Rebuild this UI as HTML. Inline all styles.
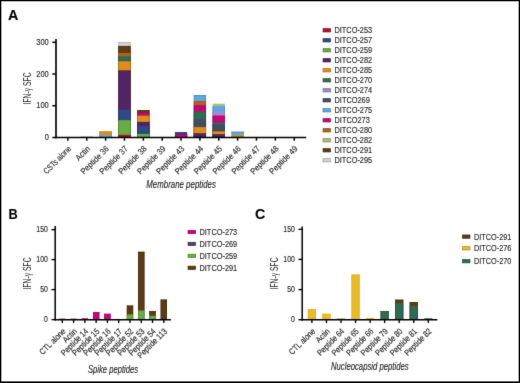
<!DOCTYPE html>
<html><head><meta charset="utf-8"><style>
html,body{margin:0;padding:0;background:#fff;}
#fig{position:relative;width:520px;height:383px;overflow:hidden;background:#fff;}
#fig svg{position:absolute;left:0;top:0;will-change:transform;}
#fig text{font-family:"Liberation Sans",sans-serif;fill:#222;stroke:#222;stroke-width:0.12px;}
#frame{position:absolute;left:0;top:0;width:520px;height:383px;box-sizing:border-box;border:1px solid #000;
 box-shadow:inset 0 0 0 0.6px rgba(0,0,0,0.55),inset 0 -1px 0 0 rgba(0,0,0,0.45);}
</style></head><body>
<div id="fig">
<svg width="520" height="383" viewBox="0 0 520 383">
<defs><filter id="bl" x="0" y="0" width="520" height="383" filterUnits="userSpaceOnUse" color-interpolation-filters="sRGB"><feConvolveMatrix order="3" kernelMatrix="0.00810 0.07380 0.00810 0.07380 0.67240 0.07380 0.00810 0.07380 0.00810" divisor="1" edgeMode="duplicate" preserveAlpha="false"/></filter></defs>
<g filter="url(#bl)">
<rect x="0" y="0" width="520" height="383" fill="#fff"/>
<text x="7.9" y="19.5" font-size="14.3" style="font-weight:700;fill:#000">A</text>
<rect x="80.66" y="136" width="12.2" height="1.5" fill="#d2d1d9"/>
<rect x="99.52" y="131.5" width="12.2" height="6" fill="#e08e19"/>
<rect x="99.52" y="135" width="12.2" height="2.5" fill="#5ea7e6"/>
<rect x="99.52" y="135" width="0.7" height="2.5" fill="#4d88bc"/>
<rect x="111.02" y="135" width="0.7" height="2.5" fill="#4d88bc"/>
<rect x="99.52" y="131.5" width="0.7" height="3.5" fill="#b77414"/>
<rect x="111.02" y="131.5" width="0.7" height="3.5" fill="#b77414"/>
<rect x="99.52" y="131.5" width="12.2" height="0.7" fill="#b77414"/>
<rect x="118.38" y="42.3" width="12.2" height="95.2" fill="#d2d1d9"/>
<rect x="118.38" y="45.9" width="12.2" height="91.6" fill="#5c3b17"/>
<rect x="118.38" y="52.9" width="12.2" height="84.6" fill="#ac631f"/>
<rect x="118.38" y="56.3" width="12.2" height="81.2" fill="#2f6b52"/>
<rect x="118.38" y="61.3" width="12.2" height="76.2" fill="#e08e19"/>
<rect x="118.38" y="70.3" width="12.2" height="67.2" fill="#512564"/>
<rect x="118.38" y="109.7" width="12.2" height="27.8" fill="#2e4a82"/>
<rect x="118.38" y="120.2" width="12.2" height="17.3" fill="#67ad44"/>
<rect x="118.38" y="134.8" width="12.2" height="2.7" fill="#b0102f"/>
<rect x="118.38" y="134.8" width="0.7" height="2.7" fill="#900d26"/>
<rect x="129.88" y="134.8" width="0.7" height="2.7" fill="#900d26"/>
<rect x="118.38" y="120.2" width="0.7" height="14.6" fill="#548d37"/>
<rect x="129.88" y="120.2" width="0.7" height="14.6" fill="#548d37"/>
<rect x="118.38" y="109.7" width="0.7" height="10.5" fill="#253c6a"/>
<rect x="129.88" y="109.7" width="0.7" height="10.5" fill="#253c6a"/>
<rect x="118.38" y="70.3" width="0.7" height="39.4" fill="#421e52"/>
<rect x="129.88" y="70.3" width="0.7" height="39.4" fill="#421e52"/>
<rect x="118.38" y="61.3" width="0.7" height="9" fill="#b77414"/>
<rect x="129.88" y="61.3" width="0.7" height="9" fill="#b77414"/>
<rect x="118.38" y="56.3" width="0.7" height="5" fill="#214d3b"/>
<rect x="129.88" y="56.3" width="0.7" height="5" fill="#214d3b"/>
<rect x="118.38" y="52.9" width="0.7" height="3.4" fill="#8d5119"/>
<rect x="129.88" y="52.9" width="0.7" height="3.4" fill="#8d5119"/>
<rect x="118.38" y="45.9" width="0.7" height="7" fill="#472e11"/>
<rect x="129.88" y="45.9" width="0.7" height="7" fill="#472e11"/>
<rect x="118.38" y="42.3" width="0.7" height="3.6" fill="#acabb1"/>
<rect x="129.88" y="42.3" width="0.7" height="3.6" fill="#acabb1"/>
<rect x="118.38" y="42.3" width="12.2" height="0.7" fill="#acabb1"/>
<rect x="137.24" y="110.1" width="12.2" height="27.4" fill="#5c3b17"/>
<rect x="137.24" y="113" width="12.2" height="24.5" fill="#c9037a"/>
<rect x="137.24" y="115.7" width="12.2" height="21.8" fill="#e08e19"/>
<rect x="137.24" y="121.9" width="12.2" height="15.6" fill="#512564"/>
<rect x="137.24" y="125.9" width="12.2" height="11.6" fill="#2e4a82"/>
<rect x="137.24" y="133.9" width="12.2" height="3.6" fill="#67ad44"/>
<rect x="137.24" y="133.9" width="0.7" height="3.6" fill="#548d37"/>
<rect x="148.74" y="133.9" width="0.7" height="3.6" fill="#548d37"/>
<rect x="137.24" y="125.9" width="0.7" height="8" fill="#253c6a"/>
<rect x="148.74" y="125.9" width="0.7" height="8" fill="#253c6a"/>
<rect x="137.24" y="121.9" width="0.7" height="4" fill="#421e52"/>
<rect x="148.74" y="121.9" width="0.7" height="4" fill="#421e52"/>
<rect x="137.24" y="115.7" width="0.7" height="6.2" fill="#b77414"/>
<rect x="148.74" y="115.7" width="0.7" height="6.2" fill="#b77414"/>
<rect x="137.24" y="113" width="0.7" height="2.7" fill="#a40264"/>
<rect x="148.74" y="113" width="0.7" height="2.7" fill="#a40264"/>
<rect x="137.24" y="110.1" width="0.7" height="2.9" fill="#472e11"/>
<rect x="148.74" y="110.1" width="0.7" height="2.9" fill="#472e11"/>
<rect x="137.24" y="110.1" width="12.2" height="0.7" fill="#472e11"/>
<rect x="174.96" y="132" width="12.2" height="5.5" fill="#2e4a82"/>
<rect x="174.96" y="133.8" width="12.2" height="3.7" fill="#512564"/>
<rect x="174.96" y="134.7" width="12.2" height="2.8" fill="#c9037a"/>
<rect x="174.96" y="134.7" width="0.7" height="2.8" fill="#a40264"/>
<rect x="186.46" y="134.7" width="0.7" height="2.8" fill="#a40264"/>
<rect x="193.82" y="95" width="12.2" height="42.5" fill="#5ea7e6"/>
<rect x="193.82" y="100.9" width="12.2" height="36.6" fill="#ac631f"/>
<rect x="193.82" y="105.1" width="12.2" height="32.4" fill="#c9037a"/>
<rect x="193.82" y="111.4" width="12.2" height="26.1" fill="#2f6b52"/>
<rect x="193.82" y="119.1" width="12.2" height="18.4" fill="#434c63"/>
<rect x="193.82" y="127.1" width="12.2" height="10.4" fill="#e08e19"/>
<rect x="193.82" y="133.2" width="12.2" height="4.3" fill="#512564"/>
<rect x="193.82" y="133.2" width="0.7" height="4.3" fill="#421e52"/>
<rect x="205.32" y="133.2" width="0.7" height="4.3" fill="#421e52"/>
<rect x="193.82" y="127.1" width="0.7" height="6.1" fill="#b77414"/>
<rect x="205.32" y="127.1" width="0.7" height="6.1" fill="#b77414"/>
<rect x="193.82" y="119.1" width="0.7" height="8" fill="#363e51"/>
<rect x="205.32" y="119.1" width="0.7" height="8" fill="#363e51"/>
<rect x="193.82" y="111.4" width="0.7" height="7.7" fill="#214d3b"/>
<rect x="205.32" y="111.4" width="0.7" height="7.7" fill="#214d3b"/>
<rect x="193.82" y="105.1" width="0.7" height="6.3" fill="#a40264"/>
<rect x="205.32" y="105.1" width="0.7" height="6.3" fill="#a40264"/>
<rect x="193.82" y="100.9" width="0.7" height="4.2" fill="#8d5119"/>
<rect x="205.32" y="100.9" width="0.7" height="4.2" fill="#8d5119"/>
<rect x="193.82" y="95" width="0.7" height="5.9" fill="#4d88bc"/>
<rect x="205.32" y="95" width="0.7" height="5.9" fill="#4d88bc"/>
<rect x="193.82" y="95" width="12.2" height="0.7" fill="#4d88bc"/>
<rect x="212.68" y="103.7" width="12.2" height="33.8" fill="#abbd78"/>
<rect x="212.68" y="106.1" width="12.2" height="31.4" fill="#5ea7e6"/>
<rect x="212.68" y="111.2" width="12.2" height="26.3" fill="#9a8fd0"/>
<rect x="212.68" y="115.5" width="12.2" height="22" fill="#c9037a"/>
<rect x="212.68" y="122.4" width="12.2" height="15.1" fill="#2f6b52"/>
<rect x="212.68" y="124.3" width="12.2" height="13.2" fill="#434c63"/>
<rect x="212.68" y="130.6" width="12.2" height="6.9" fill="#5c3b17"/>
<rect x="212.68" y="131.3" width="12.2" height="6.2" fill="#e08e19"/>
<rect x="212.68" y="134.1" width="12.2" height="3.4" fill="#512564"/>
<rect x="212.68" y="134.1" width="0.7" height="3.4" fill="#421e52"/>
<rect x="224.18" y="134.1" width="0.7" height="3.4" fill="#421e52"/>
<rect x="212.68" y="131.3" width="0.7" height="2.8" fill="#b77414"/>
<rect x="224.18" y="131.3" width="0.7" height="2.8" fill="#b77414"/>
<rect x="212.68" y="124.3" width="0.7" height="6.3" fill="#363e51"/>
<rect x="224.18" y="124.3" width="0.7" height="6.3" fill="#363e51"/>
<rect x="212.68" y="115.5" width="0.7" height="6.9" fill="#a40264"/>
<rect x="224.18" y="115.5" width="0.7" height="6.9" fill="#a40264"/>
<rect x="212.68" y="111.2" width="0.7" height="4.3" fill="#7e75aa"/>
<rect x="224.18" y="111.2" width="0.7" height="4.3" fill="#7e75aa"/>
<rect x="212.68" y="106.1" width="0.7" height="5.1" fill="#4d88bc"/>
<rect x="224.18" y="106.1" width="0.7" height="5.1" fill="#4d88bc"/>
<rect x="231.54" y="131.7" width="12.2" height="5.8" fill="#5ea7e6"/>
<rect x="231.54" y="134.6" width="12.2" height="2.9" fill="#e08e19"/>
<rect x="231.54" y="136.1" width="12.2" height="1.4" fill="#67ad44"/>
<rect x="231.54" y="131.7" width="0.7" height="2.9" fill="#4d88bc"/>
<rect x="243.04" y="131.7" width="0.7" height="2.9" fill="#4d88bc"/>
<rect x="231.54" y="131.7" width="12.2" height="0.7" fill="#4d88bc"/>
<line x1="56" y1="39" x2="56" y2="138.32" stroke="#000" stroke-width="1.65"/>
<line x1="55.17" y1="137.5" x2="306.2" y2="137.5" stroke="#000" stroke-width="1.65"/>
<line x1="52.3" y1="42.3" x2="56" y2="42.3" stroke="#000" stroke-width="1.4849999999999999"/>
<line x1="52.3" y1="74" x2="56" y2="74" stroke="#000" stroke-width="1.4849999999999999"/>
<line x1="52.3" y1="105.7" x2="56" y2="105.7" stroke="#000" stroke-width="1.4849999999999999"/>
<line x1="52.3" y1="137.5" x2="56" y2="137.5" stroke="#000" stroke-width="1.4849999999999999"/>
<line x1="67.9" y1="137.5" x2="67.9" y2="140.7" stroke="#000" stroke-width="1.4849999999999999"/>
<line x1="86.76" y1="137.5" x2="86.76" y2="140.7" stroke="#000" stroke-width="1.4849999999999999"/>
<line x1="105.62" y1="137.5" x2="105.62" y2="140.7" stroke="#000" stroke-width="1.4849999999999999"/>
<line x1="124.48" y1="137.5" x2="124.48" y2="140.7" stroke="#000" stroke-width="1.4849999999999999"/>
<line x1="143.34" y1="137.5" x2="143.34" y2="140.7" stroke="#000" stroke-width="1.4849999999999999"/>
<line x1="162.2" y1="137.5" x2="162.2" y2="140.7" stroke="#000" stroke-width="1.4849999999999999"/>
<line x1="181.06" y1="137.5" x2="181.06" y2="140.7" stroke="#000" stroke-width="1.4849999999999999"/>
<line x1="199.92" y1="137.5" x2="199.92" y2="140.7" stroke="#000" stroke-width="1.4849999999999999"/>
<line x1="218.78" y1="137.5" x2="218.78" y2="140.7" stroke="#000" stroke-width="1.4849999999999999"/>
<line x1="237.64" y1="137.5" x2="237.64" y2="140.7" stroke="#000" stroke-width="1.4849999999999999"/>
<line x1="256.5" y1="137.5" x2="256.5" y2="140.7" stroke="#000" stroke-width="1.4849999999999999"/>
<line x1="275.36" y1="137.5" x2="275.36" y2="140.7" stroke="#000" stroke-width="1.4849999999999999"/>
<line x1="294.22" y1="137.5" x2="294.22" y2="140.7" stroke="#000" stroke-width="1.4849999999999999"/>
<text x="48.8" y="44.95" font-size="8.2" text-anchor="end" textLength="12.51" lengthAdjust="spacingAndGlyphs">300</text>
<text x="48.8" y="76.65" font-size="8.2" text-anchor="end" textLength="12.51" lengthAdjust="spacingAndGlyphs">200</text>
<text x="48.8" y="108.35" font-size="8.2" text-anchor="end" textLength="12.51" lengthAdjust="spacingAndGlyphs">100</text>
<text x="48.8" y="140.15" font-size="8.2" text-anchor="end" textLength="4.17" lengthAdjust="spacingAndGlyphs">0</text>
<text transform="translate(71.8,149.3) rotate(-45)" font-size="8.5" text-anchor="end" textLength="35.6" lengthAdjust="spacingAndGlyphs">CSTs alone</text>
<text transform="translate(90.66,149.3) rotate(-45)" font-size="8.5" text-anchor="end" textLength="16.78" lengthAdjust="spacingAndGlyphs">Actin</text>
<text transform="translate(109.52,149.3) rotate(-45)" font-size="8.5" text-anchor="end" textLength="36.1" lengthAdjust="spacingAndGlyphs">Peptide 36</text>
<text transform="translate(128.38,149.3) rotate(-45)" font-size="8.5" text-anchor="end" textLength="36.1" lengthAdjust="spacingAndGlyphs">Peptide 37</text>
<text transform="translate(147.24,149.3) rotate(-45)" font-size="8.5" text-anchor="end" textLength="36.1" lengthAdjust="spacingAndGlyphs">Peptide 38</text>
<text transform="translate(166.1,149.3) rotate(-45)" font-size="8.5" text-anchor="end" textLength="36.1" lengthAdjust="spacingAndGlyphs">Peptide 39</text>
<text transform="translate(184.96,149.3) rotate(-45)" font-size="8.5" text-anchor="end" textLength="36.1" lengthAdjust="spacingAndGlyphs">Peptide 43</text>
<text transform="translate(203.82,149.3) rotate(-45)" font-size="8.5" text-anchor="end" textLength="36.1" lengthAdjust="spacingAndGlyphs">Peptide 44</text>
<text transform="translate(222.68,149.3) rotate(-45)" font-size="8.5" text-anchor="end" textLength="36.1" lengthAdjust="spacingAndGlyphs">Peptide 45</text>
<text transform="translate(241.54,149.3) rotate(-45)" font-size="8.5" text-anchor="end" textLength="36.1" lengthAdjust="spacingAndGlyphs">Peptide 46</text>
<text transform="translate(260.4,149.3) rotate(-45)" font-size="8.5" text-anchor="end" textLength="36.1" lengthAdjust="spacingAndGlyphs">Peptide 47</text>
<text transform="translate(279.26,149.3) rotate(-45)" font-size="8.5" text-anchor="end" textLength="36.1" lengthAdjust="spacingAndGlyphs">Peptide 48</text>
<text transform="translate(298.12,149.3) rotate(-45)" font-size="8.5" text-anchor="end" textLength="36.1" lengthAdjust="spacingAndGlyphs">Peptide 49</text>
<text transform="translate(30.9,88.4) rotate(-90)" font-size="10.1" text-anchor="middle" textLength="32" lengthAdjust="spacingAndGlyphs" style="stroke-width:0">IFN-γ SFC</text>
<text x="146.3" y="187.6" font-size="10" font-style="italic" textLength="69.6" lengthAdjust="spacingAndGlyphs">Membrane peptides</text>
<rect x="323.05" y="28.65" width="7.5" height="3.3" fill="#b0102f" stroke="#7e0b21" stroke-width="0.7"/>
<text x="334.5" y="33.2" font-size="8.2" text-anchor="start" textLength="37.6" lengthAdjust="spacingAndGlyphs">DITCO-253</text>
<rect x="323.05" y="38.65" width="7.5" height="3.3" fill="#2e4a82" stroke="#21355d" stroke-width="0.7"/>
<text x="334.5" y="43.2" font-size="8.2" text-anchor="start" textLength="37.6" lengthAdjust="spacingAndGlyphs">DITCO-257</text>
<rect x="323.05" y="48.65" width="7.5" height="3.3" fill="#67ad44" stroke="#4a7c30" stroke-width="0.7"/>
<text x="334.5" y="53.2" font-size="8.2" text-anchor="start" textLength="37.6" lengthAdjust="spacingAndGlyphs">DITCO-259</text>
<rect x="323.05" y="58.65" width="7.5" height="3.3" fill="#512564" stroke="#3a1a48" stroke-width="0.7"/>
<text x="334.5" y="63.2" font-size="8.2" text-anchor="start" textLength="37.6" lengthAdjust="spacingAndGlyphs">DITCO-282</text>
<rect x="323.05" y="68.65" width="7.5" height="3.3" fill="#e08e19" stroke="#a16612" stroke-width="0.7"/>
<text x="334.5" y="73.2" font-size="8.2" text-anchor="start" textLength="37.6" lengthAdjust="spacingAndGlyphs">DITCO-285</text>
<rect x="323.05" y="78.65" width="7.5" height="3.3" fill="#2f6b52" stroke="#214d3b" stroke-width="0.7"/>
<text x="334.5" y="83.2" font-size="8.2" text-anchor="start" textLength="37.6" lengthAdjust="spacingAndGlyphs">DITCO-270</text>
<rect x="323.05" y="88.65" width="7.5" height="3.3" fill="#9a8fd0" stroke="#6e6695" stroke-width="0.7"/>
<text x="334.5" y="93.2" font-size="8.2" text-anchor="start" textLength="37.6" lengthAdjust="spacingAndGlyphs">DITCO-274</text>
<rect x="323.05" y="98.65" width="7.5" height="3.3" fill="#434c63" stroke="#303647" stroke-width="0.7"/>
<text x="334.5" y="103.2" font-size="8.2" text-anchor="start" textLength="35.34" lengthAdjust="spacingAndGlyphs">DITCO269</text>
<rect x="323.05" y="108.65" width="7.5" height="3.3" fill="#5ea7e6" stroke="#4378a5" stroke-width="0.7"/>
<text x="334.5" y="113.2" font-size="8.2" text-anchor="start" textLength="37.6" lengthAdjust="spacingAndGlyphs">DITCO-275</text>
<rect x="323.05" y="118.65" width="7.5" height="3.3" fill="#c9037a" stroke="#900257" stroke-width="0.7"/>
<text x="334.5" y="123.2" font-size="8.2" text-anchor="start" textLength="35.34" lengthAdjust="spacingAndGlyphs">DITCO273</text>
<rect x="323.05" y="128.65" width="7.5" height="3.3" fill="#ac631f" stroke="#7b4716" stroke-width="0.7"/>
<text x="334.5" y="133.2" font-size="8.2" text-anchor="start" textLength="37.6" lengthAdjust="spacingAndGlyphs">DITCO-280</text>
<rect x="323.05" y="138.65" width="7.5" height="3.3" fill="#abbd78" stroke="#7b8856" stroke-width="0.7"/>
<text x="334.5" y="143.2" font-size="8.2" text-anchor="start" textLength="37.6" lengthAdjust="spacingAndGlyphs">DITCO-282</text>
<rect x="323.05" y="148.65" width="7.5" height="3.3" fill="#5c3b17" stroke="#422a10" stroke-width="0.7"/>
<text x="334.5" y="153.2" font-size="8.2" text-anchor="start" textLength="37.6" lengthAdjust="spacingAndGlyphs">DITCO-291</text>
<rect x="323.05" y="158.65" width="7.5" height="3.3" fill="#d2d1d9" stroke="#97969c" stroke-width="0.7"/>
<text x="334.5" y="163.2" font-size="8.2" text-anchor="start" textLength="37.6" lengthAdjust="spacingAndGlyphs">DITCO-295</text>
<text x="8.6" y="218.8" font-size="14.3" textLength="9.2" lengthAdjust="spacingAndGlyphs" style="font-weight:700;fill:#000">B</text>
<rect x="59.15" y="318.6" width="6.3" height="1.15" fill="#8c1c5c"/>
<rect x="70.43" y="318.6" width="6.3" height="1.15" fill="#8c1c5c"/>
<rect x="81.71" y="318.2" width="6.3" height="1.55" fill="#c9037a"/>
<rect x="92.99" y="312.1" width="6.3" height="7.65" fill="#c9037a"/>
<rect x="92.99" y="312.1" width="0.7" height="7.65" fill="#a40264"/>
<rect x="98.59" y="312.1" width="0.7" height="7.65" fill="#a40264"/>
<rect x="92.99" y="312.1" width="6.3" height="0.7" fill="#a40264"/>
<rect x="104.27" y="313.8" width="6.3" height="5.95" fill="#c9037a"/>
<rect x="104.27" y="313.8" width="0.7" height="5.95" fill="#a40264"/>
<rect x="109.87" y="313.8" width="0.7" height="5.95" fill="#a40264"/>
<rect x="104.27" y="313.8" width="6.3" height="0.7" fill="#a40264"/>
<rect x="126.83" y="305.6" width="6.3" height="14.15" fill="#5c3b17"/>
<rect x="126.83" y="314.4" width="6.3" height="5.35" fill="#67ad44"/>
<rect x="126.83" y="314.4" width="0.7" height="5.35" fill="#548d37"/>
<rect x="132.43" y="314.4" width="0.7" height="5.35" fill="#548d37"/>
<rect x="126.83" y="305.6" width="0.7" height="8.8" fill="#472e11"/>
<rect x="132.43" y="305.6" width="0.7" height="8.8" fill="#472e11"/>
<rect x="126.83" y="305.6" width="6.3" height="0.7" fill="#472e11"/>
<rect x="138.11" y="251.8" width="6.3" height="67.95" fill="#5c3b17"/>
<rect x="138.11" y="310.5" width="6.3" height="9.25" fill="#67ad44"/>
<rect x="138.11" y="310.5" width="0.7" height="9.25" fill="#548d37"/>
<rect x="143.71" y="310.5" width="0.7" height="9.25" fill="#548d37"/>
<rect x="138.11" y="251.8" width="0.7" height="58.7" fill="#472e11"/>
<rect x="143.71" y="251.8" width="0.7" height="58.7" fill="#472e11"/>
<rect x="138.11" y="251.8" width="6.3" height="0.7" fill="#472e11"/>
<rect x="149.39" y="311.1" width="6.3" height="8.65" fill="#5c3b17"/>
<rect x="149.39" y="315.8" width="6.3" height="3.95" fill="#67ad44"/>
<rect x="149.39" y="315.8" width="0.7" height="3.95" fill="#548d37"/>
<rect x="154.99" y="315.8" width="0.7" height="3.95" fill="#548d37"/>
<rect x="149.39" y="311.1" width="0.7" height="4.7" fill="#472e11"/>
<rect x="154.99" y="311.1" width="0.7" height="4.7" fill="#472e11"/>
<rect x="149.39" y="311.1" width="6.3" height="0.7" fill="#472e11"/>
<rect x="160.67" y="299.6" width="6.3" height="20.15" fill="#5c3b17"/>
<rect x="160.67" y="299.6" width="0.7" height="20.15" fill="#472e11"/>
<rect x="166.27" y="299.6" width="0.7" height="20.15" fill="#472e11"/>
<rect x="160.67" y="299.6" width="6.3" height="0.7" fill="#472e11"/>
<line x1="55.2" y1="225.9" x2="55.2" y2="320.5" stroke="#000" stroke-width="1.5"/>
<line x1="54.45" y1="319.75" x2="170.9" y2="319.75" stroke="#000" stroke-width="1.5"/>
<line x1="51.5" y1="229.7" x2="55.2" y2="229.7" stroke="#000" stroke-width="1.35"/>
<line x1="51.5" y1="259.6" x2="55.2" y2="259.6" stroke="#000" stroke-width="1.35"/>
<line x1="51.5" y1="289.6" x2="55.2" y2="289.6" stroke="#000" stroke-width="1.35"/>
<line x1="51.5" y1="319.6" x2="55.2" y2="319.6" stroke="#000" stroke-width="1.35"/>
<line x1="62.3" y1="319.75" x2="62.3" y2="322.95" stroke="#000" stroke-width="1.35"/>
<line x1="73.58" y1="319.75" x2="73.58" y2="322.95" stroke="#000" stroke-width="1.35"/>
<line x1="84.86" y1="319.75" x2="84.86" y2="322.95" stroke="#000" stroke-width="1.35"/>
<line x1="96.14" y1="319.75" x2="96.14" y2="322.95" stroke="#000" stroke-width="1.35"/>
<line x1="107.42" y1="319.75" x2="107.42" y2="322.95" stroke="#000" stroke-width="1.35"/>
<line x1="118.7" y1="319.75" x2="118.7" y2="322.95" stroke="#000" stroke-width="1.35"/>
<line x1="129.98" y1="319.75" x2="129.98" y2="322.95" stroke="#000" stroke-width="1.35"/>
<line x1="141.26" y1="319.75" x2="141.26" y2="322.95" stroke="#000" stroke-width="1.35"/>
<line x1="152.54" y1="319.75" x2="152.54" y2="322.95" stroke="#000" stroke-width="1.35"/>
<line x1="163.82" y1="319.75" x2="163.82" y2="322.95" stroke="#000" stroke-width="1.35"/>
<text x="47.9" y="232.35" font-size="8.2" text-anchor="end" textLength="11.55" lengthAdjust="spacingAndGlyphs">150</text>
<text x="47.9" y="262.25" font-size="8.2" text-anchor="end" textLength="11.55" lengthAdjust="spacingAndGlyphs">100</text>
<text x="47.9" y="292.25" font-size="8.2" text-anchor="end" textLength="7.7" lengthAdjust="spacingAndGlyphs">50</text>
<text x="47.9" y="322.25" font-size="8.2" text-anchor="end" textLength="3.85" lengthAdjust="spacingAndGlyphs">0</text>
<text transform="translate(66.2,331.8) rotate(-45)" font-size="8.5" text-anchor="end" textLength="33.18" lengthAdjust="spacingAndGlyphs">CTL alone</text>
<text transform="translate(77.48,331.8) rotate(-45)" font-size="8.5" text-anchor="end" textLength="16.12" lengthAdjust="spacingAndGlyphs">Actin</text>
<text transform="translate(88.76,331.8) rotate(-45)" font-size="8.5" text-anchor="end" textLength="34.67" lengthAdjust="spacingAndGlyphs">Peptide 14</text>
<text transform="translate(100.04,331.8) rotate(-45)" font-size="8.5" text-anchor="end" textLength="34.67" lengthAdjust="spacingAndGlyphs">Peptide 15</text>
<text transform="translate(111.32,331.8) rotate(-45)" font-size="8.5" text-anchor="end" textLength="34.67" lengthAdjust="spacingAndGlyphs">Peptide 16</text>
<text transform="translate(122.6,331.8) rotate(-45)" font-size="8.5" text-anchor="end" textLength="34.67" lengthAdjust="spacingAndGlyphs">Peptide 17</text>
<text transform="translate(133.88,331.8) rotate(-45)" font-size="8.5" text-anchor="end" textLength="34.67" lengthAdjust="spacingAndGlyphs">Peptide 52</text>
<text transform="translate(145.16,331.8) rotate(-45)" font-size="8.5" text-anchor="end" textLength="34.67" lengthAdjust="spacingAndGlyphs">Peptide 53</text>
<text transform="translate(156.44,331.8) rotate(-45)" font-size="8.5" text-anchor="end" textLength="34.67" lengthAdjust="spacingAndGlyphs">Peptide 54</text>
<text transform="translate(167.72,331.8) rotate(-45)" font-size="8.5" text-anchor="end" textLength="38.16" lengthAdjust="spacingAndGlyphs">Peptide 113</text>
<text transform="translate(30.6,273.4) rotate(-90)" font-size="10.1" text-anchor="middle" textLength="32" lengthAdjust="spacingAndGlyphs" style="stroke-width:0">IFN-γ SFC</text>
<text x="88.0" y="373.1" font-size="10" font-style="italic" textLength="50" lengthAdjust="spacingAndGlyphs">Spike peptides</text>
<rect x="188.05" y="230.35" width="7.5" height="3.3" fill="#c9037a" stroke="#900257" stroke-width="0.7"/>
<text x="199.5" y="234.9" font-size="8.2" text-anchor="start" textLength="37.7" lengthAdjust="spacingAndGlyphs">DITCO-273</text>
<rect x="188.05" y="242.28" width="7.5" height="3.3" fill="#434c63" stroke="#303647" stroke-width="0.7"/>
<text x="199.5" y="246.83" font-size="8.2" text-anchor="start" textLength="37.7" lengthAdjust="spacingAndGlyphs">DITCO-269</text>
<rect x="188.05" y="254.21" width="7.5" height="3.3" fill="#67ad44" stroke="#4a7c30" stroke-width="0.7"/>
<text x="199.5" y="258.76" font-size="8.2" text-anchor="start" textLength="37.7" lengthAdjust="spacingAndGlyphs">DITCO-259</text>
<rect x="188.05" y="266.14" width="7.5" height="3.3" fill="#5c3b17" stroke="#422a10" stroke-width="0.7"/>
<text x="199.5" y="270.69" font-size="8.2" text-anchor="start" textLength="37.7" lengthAdjust="spacingAndGlyphs">DITCO-291</text>
<text x="255.0" y="218.8" font-size="14.3" style="font-weight:700;fill:#000">C</text>
<rect x="307.85" y="309.2" width="8.1" height="10.65" fill="#e8bc26"/>
<rect x="307.85" y="309.2" width="0.7" height="10.65" fill="#dcb224"/>
<rect x="315.25" y="309.2" width="0.7" height="10.65" fill="#dcb224"/>
<rect x="307.85" y="309.2" width="8.1" height="0.7" fill="#dcb224"/>
<rect x="322.4" y="313.8" width="8.1" height="6.05" fill="#e8bc26"/>
<rect x="322.4" y="313.8" width="0.7" height="6.05" fill="#dcb224"/>
<rect x="329.8" y="313.8" width="0.7" height="6.05" fill="#dcb224"/>
<rect x="322.4" y="313.8" width="8.1" height="0.7" fill="#dcb224"/>
<rect x="336.95" y="318.5" width="8.1" height="1.35" fill="#9c7c12"/>
<rect x="351.5" y="274.6" width="8.1" height="45.25" fill="#e8bc26"/>
<rect x="351.5" y="274.6" width="0.7" height="45.25" fill="#dcb224"/>
<rect x="358.9" y="274.6" width="0.7" height="45.25" fill="#dcb224"/>
<rect x="351.5" y="274.6" width="8.1" height="0.7" fill="#dcb224"/>
<rect x="366.05" y="317.9" width="8.1" height="1.95" fill="#e8bc26"/>
<rect x="380.6" y="311.1" width="8.1" height="8.75" fill="#2f6b52"/>
<rect x="380.6" y="311.1" width="0.7" height="8.75" fill="#214d3b"/>
<rect x="388" y="311.1" width="0.7" height="8.75" fill="#214d3b"/>
<rect x="380.6" y="311.1" width="8.1" height="0.7" fill="#214d3b"/>
<rect x="395.15" y="299.7" width="8.1" height="20.15" fill="#5c3b17"/>
<rect x="395.15" y="303.1" width="8.1" height="16.75" fill="#2f6b52"/>
<rect x="395.15" y="303.1" width="0.7" height="16.75" fill="#214d3b"/>
<rect x="402.55" y="303.1" width="0.7" height="16.75" fill="#214d3b"/>
<rect x="395.15" y="299.7" width="0.7" height="3.4" fill="#472e11"/>
<rect x="402.55" y="299.7" width="0.7" height="3.4" fill="#472e11"/>
<rect x="395.15" y="299.7" width="8.1" height="0.7" fill="#472e11"/>
<rect x="409.7" y="302.1" width="8.1" height="17.75" fill="#5c3b17"/>
<rect x="409.7" y="305.9" width="8.1" height="13.95" fill="#2f6b52"/>
<rect x="409.7" y="305.9" width="0.7" height="13.95" fill="#214d3b"/>
<rect x="417.1" y="305.9" width="0.7" height="13.95" fill="#214d3b"/>
<rect x="409.7" y="302.1" width="0.7" height="3.8" fill="#472e11"/>
<rect x="417.1" y="302.1" width="0.7" height="3.8" fill="#472e11"/>
<rect x="409.7" y="302.1" width="8.1" height="0.7" fill="#472e11"/>
<rect x="424.25" y="318.2" width="8.1" height="1.65" fill="#2f6b52"/>
<line x1="302.2" y1="226.4" x2="302.2" y2="320.6" stroke="#000" stroke-width="1.5"/>
<line x1="301.45" y1="319.85" x2="437.3" y2="319.85" stroke="#000" stroke-width="1.5"/>
<line x1="298.5" y1="229.3" x2="302.2" y2="229.3" stroke="#000" stroke-width="1.35"/>
<line x1="298.5" y1="259.4" x2="302.2" y2="259.4" stroke="#000" stroke-width="1.35"/>
<line x1="298.5" y1="289.6" x2="302.2" y2="289.6" stroke="#000" stroke-width="1.35"/>
<line x1="298.5" y1="319.7" x2="302.2" y2="319.7" stroke="#000" stroke-width="1.35"/>
<line x1="311.9" y1="319.85" x2="311.9" y2="323.05" stroke="#000" stroke-width="1.35"/>
<line x1="326.45" y1="319.85" x2="326.45" y2="323.05" stroke="#000" stroke-width="1.35"/>
<line x1="341" y1="319.85" x2="341" y2="323.05" stroke="#000" stroke-width="1.35"/>
<line x1="355.55" y1="319.85" x2="355.55" y2="323.05" stroke="#000" stroke-width="1.35"/>
<line x1="370.1" y1="319.85" x2="370.1" y2="323.05" stroke="#000" stroke-width="1.35"/>
<line x1="384.65" y1="319.85" x2="384.65" y2="323.05" stroke="#000" stroke-width="1.35"/>
<line x1="399.2" y1="319.85" x2="399.2" y2="323.05" stroke="#000" stroke-width="1.35"/>
<line x1="413.75" y1="319.85" x2="413.75" y2="323.05" stroke="#000" stroke-width="1.35"/>
<line x1="428.3" y1="319.85" x2="428.3" y2="323.05" stroke="#000" stroke-width="1.35"/>
<text x="294.9" y="231.95" font-size="8.2" text-anchor="end" textLength="11.55" lengthAdjust="spacingAndGlyphs">150</text>
<text x="294.9" y="262.05" font-size="8.2" text-anchor="end" textLength="11.55" lengthAdjust="spacingAndGlyphs">100</text>
<text x="294.9" y="292.25" font-size="8.2" text-anchor="end" textLength="7.7" lengthAdjust="spacingAndGlyphs">50</text>
<text x="294.9" y="322.35" font-size="8.2" text-anchor="end" textLength="3.85" lengthAdjust="spacingAndGlyphs">0</text>
<text transform="translate(315.8,331.8) rotate(-45)" font-size="8.5" text-anchor="end" textLength="33.18" lengthAdjust="spacingAndGlyphs">CTL alone</text>
<text transform="translate(330.35,331.8) rotate(-45)" font-size="8.5" text-anchor="end" textLength="16.12" lengthAdjust="spacingAndGlyphs">Actin</text>
<text transform="translate(344.9,331.8) rotate(-45)" font-size="8.5" text-anchor="end" textLength="34.67" lengthAdjust="spacingAndGlyphs">Peptide 64</text>
<text transform="translate(359.45,331.8) rotate(-45)" font-size="8.5" text-anchor="end" textLength="34.67" lengthAdjust="spacingAndGlyphs">Peptide 65</text>
<text transform="translate(374,331.8) rotate(-45)" font-size="8.5" text-anchor="end" textLength="34.67" lengthAdjust="spacingAndGlyphs">Peptide 66</text>
<text transform="translate(388.55,331.8) rotate(-45)" font-size="8.5" text-anchor="end" textLength="34.67" lengthAdjust="spacingAndGlyphs">Peptide 79</text>
<text transform="translate(403.1,331.8) rotate(-45)" font-size="8.5" text-anchor="end" textLength="34.67" lengthAdjust="spacingAndGlyphs">Peptide 80</text>
<text transform="translate(417.65,331.8) rotate(-45)" font-size="8.5" text-anchor="end" textLength="34.67" lengthAdjust="spacingAndGlyphs">Peptide 81</text>
<text transform="translate(432.2,331.8) rotate(-45)" font-size="8.5" text-anchor="end" textLength="34.67" lengthAdjust="spacingAndGlyphs">Peptide 82</text>
<text transform="translate(277.6,273.4) rotate(-90)" font-size="10.1" text-anchor="middle" textLength="32" lengthAdjust="spacingAndGlyphs" style="stroke-width:0">IFN-γ SFC</text>
<text x="331.0" y="370.3" font-size="10" font-style="italic" textLength="77.6" lengthAdjust="spacingAndGlyphs">Nucleocapsid peptides</text>
<rect x="462.45" y="234.95" width="7.5" height="3.3" fill="#5c3b17" stroke="#422a10" stroke-width="0.7"/>
<text x="474" y="239.5" font-size="8.2" text-anchor="start" textLength="37.3" lengthAdjust="spacingAndGlyphs">DITCO-291</text>
<rect x="462.45" y="246.65" width="7.5" height="3.3" fill="#e8bc26" stroke="#a7871b" stroke-width="0.7"/>
<text x="474" y="251.2" font-size="8.2" text-anchor="start" textLength="37.3" lengthAdjust="spacingAndGlyphs">DITCO-276</text>
<rect x="462.45" y="259.55" width="7.5" height="3.3" fill="#2f6b52" stroke="#214d3b" stroke-width="0.7"/>
<text x="474" y="264.1" font-size="8.2" text-anchor="start" textLength="37.3" lengthAdjust="spacingAndGlyphs">DITCO-270</text>
</g>
</svg>
<div id="frame"></div>
</div>
</body></html>
